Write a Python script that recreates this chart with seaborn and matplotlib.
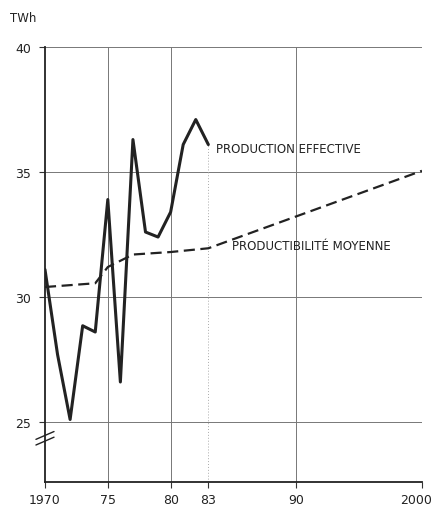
import matplotlib
matplotlib.use("Agg")
import matplotlib.pyplot as plt
import matplotlib.transforms as mtransforms
import seaborn as sns
import pandas as pd

# Data
prod_years = [1970, 1971, 1972, 1973, 1974, 1975, 1976, 1977, 1978, 1979, 1980, 1981, 1982, 1983]
prod_values = [31.1, 27.7, 25.1, 28.85, 28.6, 33.9, 26.6, 36.3, 32.6, 32.4, 33.4, 36.1, 37.1, 36.1]
moy_years = [1970, 1974, 1975, 1976, 1977, 1980, 1983, 2000]
moy_values = [30.4, 30.55, 31.2, 31.45, 31.7, 31.8, 31.95, 35.05]
xticks = [1970, 1975, 1980, 1983, 1990, 2000]
xtick_labels = ["1970", "75", "80", "83", "90", "2000"]
yticks = [25, 30, 35, 40]
label_prod = "PRODUCTION EFFECTIVE"
label_moy = "PRODUCTIBILITÉ MOYENNE"
unit = "TWh"

sns.set_style("white")
plt.rcParams['font.family'] = ['DejaVu Sans']

fig = plt.figure(figsize=(4.35, 5.06), dpi=100)
ax = fig.add_axes([0.1034, 0.0455, 0.8666, 0.8595])

df_prod = pd.DataFrame({"year": prod_years, "value": prod_values})
df_moy = pd.DataFrame({"year": moy_years, "value": moy_values})

ax.set_xlim(1970, 2000)
ax.set_ylim(22.6, 40)

# grid
for x in [1975, 1980, 1990, 2000]:
    ax.axvline(x, color="#777777", lw=0.7, zorder=0)
for y in yticks:
    ax.axhline(y, color="#777777", lw=0.7, zorder=0)
ax.vlines(1983, 22.6, prod_values[-1], color="#aaaaaa", lw=0.7, linestyles=(0, (1, 2)), zorder=0)

sns.lineplot(data=df_moy, x="year", y="value", ax=ax, color="#222222", lw=1.6,
             linestyle=(0, (5, 2.5)), zorder=3)
sns.lineplot(data=df_prod, x="year", y="value", ax=ax, color="#222222", lw=2.2, zorder=4)

ax.set_xticks(xticks)
ax.set_xticklabels(xtick_labels)
ax.set_yticks(yticks)
ax.set_yticklabels([str(v) for v in yticks])
ax.set_xlabel("")
ax.set_ylabel("")
ax.tick_params(axis="both", labelsize=9, color="#333333", length=4, width=0.8,
               direction="out", bottom=True, left=True, labelcolor="#222222")
ax.tick_params(axis="x", pad=4)
ax.tick_params(axis="y", pad=6)

# shift the last x tick label slightly left so it stays inside the figure
last = ax.get_xticklabels()[-1]
last.set_transform(last.get_transform() + mtransforms.ScaledTranslation(-4 / 72, 0, fig.dpi_scale_trans))

for s in ["top", "right"]:
    ax.spines[s].set_visible(False)
for s in ["left", "bottom"]:
    ax.spines[s].set_color("#222222")
    ax.spines[s].set_linewidth(1.3)

# axis break marks
for dy in [0.0, 0.013]:
    ax.plot([-0.024, 0.024], [0.085 + dy, 0.103 + dy], transform=ax.transAxes,
            color="#222222", lw=1.0, clip_on=False)

ax.text(1983.6, 35.96, label_prod, fontsize=8.5, va="center", ha="left", color="#222222")
ax.text(1984.9, 32.08, label_moy, fontsize=8.5, va="center", ha="left", color="#222222")
fig.text(0.023, 0.963, unit, fontsize=8.5, ha="left", va="center", color="#222222")

fig.savefig("out.png", dpi=100)
